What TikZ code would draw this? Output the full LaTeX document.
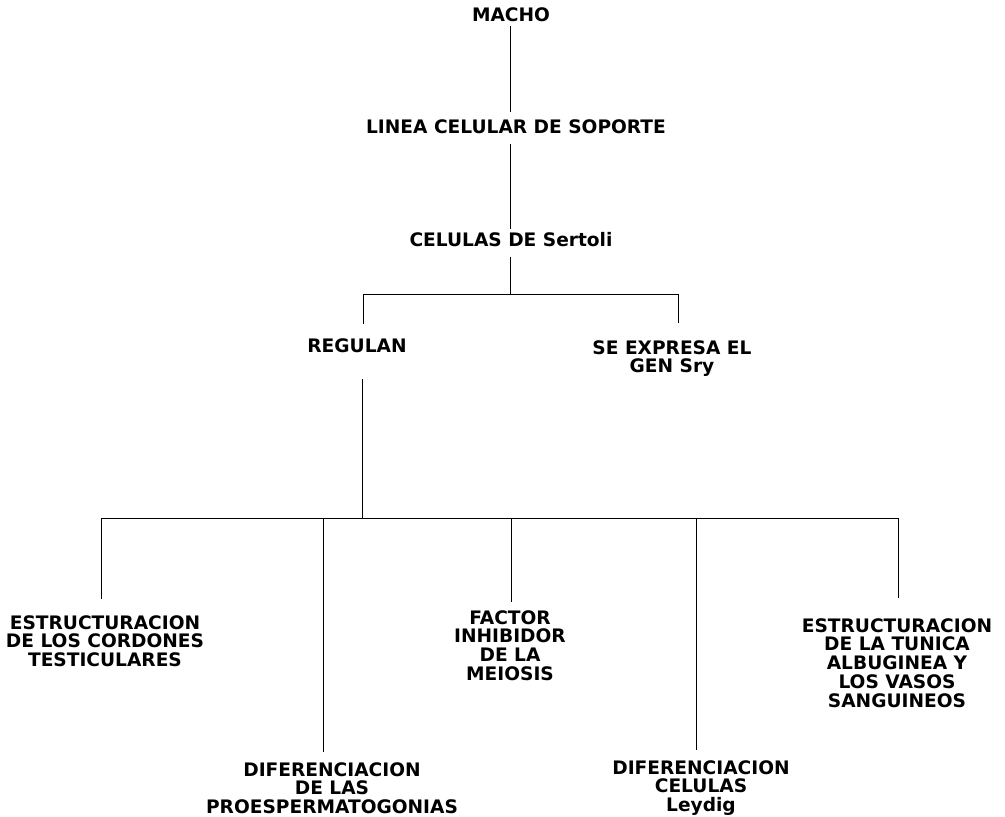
\documentclass[tikz,border=0pt]{standalone}
\usepackage{fontspec}
\setmainfont{DejaVu Sans}
\usepackage{tikz}
\usetikzlibrary{positioning}

\tikzset{
  tag/.style={font=\fontsize{18.6}{18.8}\selectfont\bfseries, align=center, inner sep=4pt},
  wire/.style={line width=0.9pt}
}

\begin{document}
\begin{tikzpicture}[x=1pt,y=-1pt]
\useasboundingbox (0,0) rectangle (1005,817);
% upper chain
\node[tag] (macho) at (511,15) {MACHO};
\node[tag] (linea) at (516,127) {LINEA CELULAR DE SOPORTE};
\node[tag] (sertoli) at (511,240) {CELULAS DE Sertoli};
\node[tag] (regulan) at (357,346) {REGULAN};
\node[tag, anchor=north] (sry) at (672,336) {SE EXPRESA EL\\GEN Sry};
% lower row
\node[tag, anchor=north] (c1) at (105,611) {ESTRUCTURACION\\DE LOS CORDONES\\TESTICULARES};
\node[tag, anchor=north] (c2) at (332,758) {DIFERENCIACION\\DE LAS\\PROESPERMATOGONIAS};
\node[tag, anchor=north] (c3) at (510,606) {FACTOR\\INHIBIDOR\\DE LA\\MEIOSIS};
\node[tag, anchor=north] (c4) at (701,756) {DIFERENCIACION\\CELULAS\\Leydig};
\node[tag, anchor=north] (c5) at (897,614) {ESTRUCTURACION\\DE LA TUNICA\\ALBUGINEA Y\\LOS VASOS\\SANGUINEOS};

\coordinate (split) at (510,294);
\coordinate (lbar) at (363,294);
\coordinate (rbar) at (678,294);
\coordinate (hub) at (362,518);

\draw[wire, shorten >=4pt] (macho.south -| split) -- (linea.north -| split);
\draw[wire, shorten <=6pt] (linea.south -| split) -- (sertoli.north -| split);
\draw[wire, shorten <=6pt] (sertoli.south -| split) -- (split);
\draw[wire] (lbar) -- (rbar);
\draw[wire, shorten >=11pt] (lbar) -- (lbar |- regulan.north);
\draw[wire, shorten >=13pt] (rbar) -- (rbar |- sry.north);
\draw[wire, shorten <=22pt] (regulan.south -| hub) -- (hub);
\draw[wire] (101,518) coordinate (bl) -- (898,518) coordinate (br);
\foreach \kid/\xx/\gap in {c1/101/12,c2/323/6,c3/511/4,c4/696/6,c5/898/16}{
  \coordinate (b\kid) at (\xx,518);
  \draw[wire, shorten >=\gap pt] (b\kid) -- (b\kid |- \kid.north);
}
\end{tikzpicture}
\end{document}
